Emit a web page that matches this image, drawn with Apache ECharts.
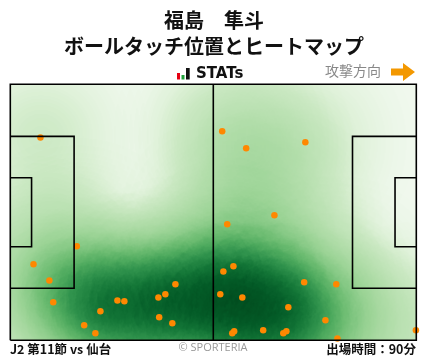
<!DOCTYPE html>
<html><head><meta charset="utf-8">
<script src="https://cdn.jsdelivr.net/npm/echarts@6/dist/echarts.min.js"></script>
<style>html,body{margin:0;padding:0;background:#fff}#c{width:428px;height:359px}</style>
</head><body><div id="c"></div>
<script>
// ---- texts ----
const titleLines = ['福島　隼斗', 'ボールタッチ位置とヒートマップ'];
const logoText = 'STATs';
const directionLabel = '攻撃方向';
const matchLabel = 'J2 第11節 vs 仙台';
const creditLabel = '© SPORTERIA';
const minutesLabel = '出場時間：90分';

// ---- pitch dimensions (metres) ----
const pitchSize = [105, 68];
const penaltyBox = [16.5, 40.32];   // depth, width
const goalArea = [5.5, 18.32];      // depth, width

// ---- ball touch positions (metres; x from own goal line, y from top touchline) ----
const touchX = [7.8, 54.8, 61.0, 76.3, 68.3, 56.1, 17.2, 6.0, 10.1, 11.1, 23.3, 27.7, 29.5, 19.1, 22.0,
  38.3, 40.1, 42.7, 38.5, 41.9, 55.1, 57.7, 54.3, 60.0, 76.0, 84.3, 71.9, 81.5, 65.4, 57.9, 57.4, 71.4, 70.6, 84.6, 104.9];
const touchY = [14.1, 12.5, 17.0, 15.4, 34.8, 37.2, 43.0, 47.8, 52.1, 57.9, 60.3, 57.4, 57.6, 64.0, 66.1,
  56.6, 55.8, 53.1, 61.9, 63.5, 49.7, 48.3, 55.8, 56.6, 52.6, 53.1, 59.2, 62.7, 65.3, 65.6, 66.1, 65.6, 66.1, 67.5, 65.3];

const L = pitchSize[0], W = pitchSize[1];
echarts.registerMap('pitch', {
  type: 'FeatureCollection',
  features: [{ type: 'Feature', properties: { name: 'pitch' },
    geometry: { type: 'Polygon', coordinates: [[[0, 0], [L, 0], [L, W], [0, W], [0, 0]]] } }]
});

// geo has latitude pointing up, so flip y
const pts = touchX.map((x, i) => [x, W - touchY[i]]);

function rectCoords(x0, y0, x1, y1) { return [[x0, y0], [x1, y0], [x1, y1], [x0, y1], [x0, y0]]; }
const pbY0 = (W - penaltyBox[1]) / 2, pbY1 = (W + penaltyBox[1]) / 2;
const gaY0 = (W - goalArea[1]) / 2, gaY1 = (W + goalArea[1]) / 2;
const pitchLines = [
  { coords: rectCoords(0, 0, L, W) },
  { coords: [[L / 2, 0], [L / 2, W]] },
  { coords: [[0, pbY0], [penaltyBox[0], pbY0], [penaltyBox[0], pbY1], [0, pbY1]] },
  { coords: [[0, gaY0], [goalArea[0], gaY0], [goalArea[0], gaY1], [0, gaY1]] },
  { coords: [[L, pbY0], [L - penaltyBox[0], pbY0], [L - penaltyBox[0], pbY1], [L, pbY1]] },
  { coords: [[L, gaY0], [L - goalArea[0], gaY0], [L - goalArea[0], gaY1], [L, gaY1]] }
];

// colour ramp (style): 21 stops over accumulated density 0..1
const ramp = ['#f0f8ed', '#e0f2da', '#cce9c4', '#bfe3b7', '#b3deab', '#a8d9a1', '#9ad395', '#86c985',
  '#6cbc71', '#4eaa5e', '#2f924c', '#137637', '#035b27', '#00441b', '#00441b', '#00441b', '#00441b',
  '#00441b', '#00441b', '#00441b', '#00441b'];

const chart = echarts.init(document.getElementById('c'), null, { renderer: 'canvas' });
const jp = '"Noto Sans CJK JP", sans-serif';
chart.setOption({
  animation: false,
  backgroundColor: '#ffffff',
  title: [
    { text: titleLines[0], left: 'center', top: 10, padding: 0,
      textStyle: { fontFamily: jp, fontSize: 20, fontWeight: 'bold', color: '#111' } },
    { text: titleLines[1], left: 'center', top: 36, padding: 0,
      textStyle: { fontFamily: jp, fontSize: 20, fontWeight: 'bold', color: '#111' } }
  ],
  visualMap: {
    type: 'continuous', show: false, min: 0, max: 1, seriesIndex: 0,
    inRange: { color: ramp }
  },
  geo: {
    map: 'pitch', left: 10.3, top: 84.3, width: 406, height: 256, roam: false, silent: true,
    itemStyle: { areaColor: '#f0f8ed', borderWidth: 0 },
    emphasis: { disabled: true }, select: { disabled: true }, label: { show: false }
  },
  series: [
    { type: 'heatmap', coordinateSystem: 'geo', geoIndex: 0,
      data: pts.map(p => [p[0], p[1], 0.3]),
      pointSize: 40, blurSize: 90, minOpacity: 1, maxOpacity: 1, silent: true },
    { type: 'scatter', coordinateSystem: 'geo', geoIndex: 0, data: pts, symbolSize: 6.5,
      itemStyle: { color: '#ff8800', opacity: 1 }, silent: true, z: 3 },
    { type: 'lines', coordinateSystem: 'geo', geoIndex: 0, polyline: true, data: pitchLines,
      lineStyle: { color: '#000', width: 1.6, opacity: 1 }, silent: true, z: 5 }
  ],
  graphic: [
    { type: 'rect', shape: { x: 177, y: 73, width: 3, height: 6.5 }, style: { fill: '#e60012' } },
    { type: 'rect', shape: { x: 181.5, y: 75, width: 3, height: 4.5 }, style: { fill: '#1fa33a' } },
    { type: 'rect', shape: { x: 186, y: 68, width: 3.7, height: 11.5 }, style: { fill: '#111' } },
    { type: 'text', x: 196, y: 74.5, style: { text: logoText, font: 'bold 15px "DejaVu Sans", sans-serif', fill: '#111', textVerticalAlign: 'middle' } },
    { type: 'text', x: 325, y: 71, style: { text: directionLabel, font: '14px ' + jp, fill: '#888', textVerticalAlign: 'middle' } },
    { type: 'polygon', shape: { points: [[391, 68.5], [403, 68.5], [403, 63], [415, 72], [403, 81], [403, 75.5], [391, 75.5]] }, style: { fill: '#f39800' } },
    { type: 'text', x: 10, y: 349, style: { text: matchLabel, font: 'bold 12.5px ' + jp, fill: '#111', textVerticalAlign: 'middle' } },
    { type: 'text', x: 213, y: 348, style: { text: creditLabel, font: '11px "Open Sans", sans-serif', fill: '#999', textAlign: 'center', textVerticalAlign: 'middle' } },
    { type: 'text', x: 416, y: 349, style: { text: minutesLabel, font: 'bold 12.5px ' + jp, fill: '#111', textAlign: 'right', textVerticalAlign: 'middle' } }
  ]
});
</script></body></html>
